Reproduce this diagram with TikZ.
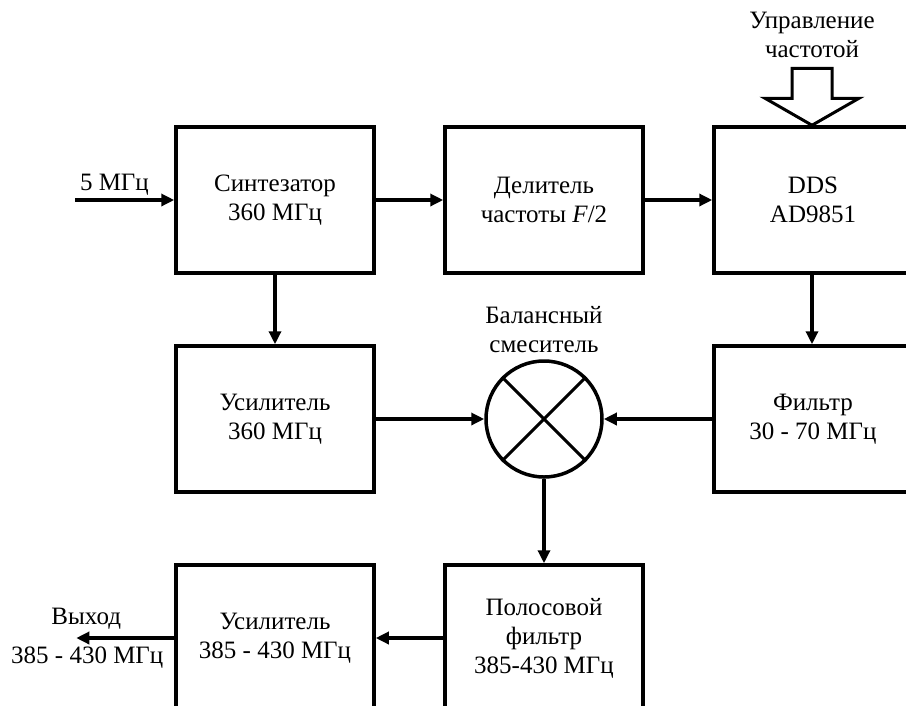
\documentclass[tikz,border=0pt]{standalone}
\usepackage{fontspec}
\setmainfont{Liberation Serif}
\usetikzlibrary{positioning, arrows.meta, shapes}
\tikzset{>={Triangle[length=13pt,width=12pt]}, node distance=69.5pt and 67.5pt,
  font=\fontsize{25}{29}\selectfont,
  box/.style={rectangle, draw, align=center, minimum width=198pt, minimum height=146pt},
  mixer/.style={circle, draw, minimum size=116pt, inner sep=0pt}}

\begin{document}
\begin{tikzpicture}[x=1pt, y=-1pt, line width=3.5pt]
        \useasboundingbox (0,0) rectangle (906,705);
        \clip (0,0) rectangle (906,705);
        \node[box] (synth) at (275,200) {Синтезатор\\360 МГц};
        \node[box, right=of synth] (divider) {Делитель\\частоты \textit{F}/2};
        \node[box, right=of divider] (dds) {DDS\\AD9851};
        \node[box, below=of synth] (amp) {Усилитель\\360 МГц};
        \node[box, below=of dds] (filter) {Фильтр\\30 - 70 МГц};
        \node[mixer] (mixer) at (amp -| divider) {};
        \node[box, below=of amp] (outamp) {Усилитель\\385 - 430 МГц};
        \node[box, right=of outamp] (bandpass) {Полосовой\\фильтр\\385-430 МГц};
        \draw[line width=3pt] (mixer.45) -- (mixer.225) (mixer.135) -- (mixer.315);
        \node[above=1pt of mixer, align=center] (mixlabel) {Балансный\\смеситель};
        \coordinate[left=99pt of synth] (input);
        \coordinate[left=98pt of outamp] (output);
        \draw[->] (input) node[above right, inner sep=3pt] {5 МГц} -- (synth);
        \draw[->] (synth) -- (divider);
        \draw[->] (divider) -- (dds);
        \draw[->] (synth) -- (amp);
        \draw[->] ([xshift=-1pt]dds.south) -- ([xshift=-1pt]filter.north);
        \draw[->] (amp) -- (mixer);
        \draw[->] (filter) -- (mixer);
        \draw[->] (mixer) -- (bandpass);
        \draw[->] (bandpass) -- (outamp);
        \draw[->] (outamp) -- (output);
        \node[above, xshift=10pt, inner sep=7pt] at (output) {Выход};
        \node[below, xshift=11pt, inner sep=7pt] at (output) {385 - 430 МГц};
        % hollow arrow into the DDS
        \draw[line width=3pt, line join=miter, shift={([xshift=-1pt]dds.north)}]
            (-20,-57) coordinate (ctltop) -- (20,-57) -- (20,-27) -- (47,-27) -- (0,0)
            -- (-47,-27) -- (-20,-27) -- cycle;
        \node[above=5pt of ctltop, xshift=20pt, align=center] (control) {Управление\\частотой};
    \end{tikzpicture}
\end{document}
